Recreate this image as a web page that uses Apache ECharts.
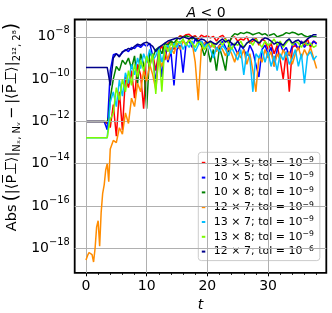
<!DOCTYPE html>
<html><head><meta charset="utf-8">
<script src="https://cdn.jsdelivr.net/npm/echarts@6/dist/echarts.min.js"></script>
<style>html,body{margin:0;padding:0;background:#fff}#c{width:332px;height:313px}</style>
</head><body><div id="c"></div>
<script>
// time axis
const t = [0,0.25,0.5,0.75,1,1.25,1.5,1.75,2,2.25,2.5,2.75,3,3.25,3.5,3.75,
4,4.5,5,5.5,6,6.5,7,7.5,8,8.5,9,9.5,10,10.5,11,11.5,12,12.5,13,13.5,14,14.5,15,15.5,
16,16.5,17,17.5,18,18.5,19,19.5,20,20.5,21,21.5,22,22.5,23,23.5,24,24.5,25,25.5,
26,26.5,27,27.5,28,28.5,29,29.5,30,30.5,31,31.5,32,32.5,33,33.5,34,34.5,35,35.5,
36,36.5,37,37.5,38];
// log10 of the plotted quantity, per series
const log10_13x5 = [-12,-12,-12,-12,-12,-12,-12,-12,-12,-12,-12,-12,-12,-12,-12.1,-11.8,
-12.3,-11.2,-12.7,-10.6,-12.4,-9.9,-10.4,-9.6,-10.9,-9.3,
-9.8,-11.4,-9.0,-9.4,-8.8,-9.6,-8.7,-8.4,-9.1,-8.3,
-8.2,-8.6,-8.1,-7.95,-8.0,-7.9,-7.88,-8.0,-7.95,-8.1,
-7.92,-8.0,-7.95,-8.05,-7.98,-8.2,-8.0,-7.93,-8.1,-8.3,
-8.05,-8.0,-8.2,-8.1,-8.15,-8.0,-8.3,-8.2,-8.05,-8.4,
-8.1,-8.2,-8.6,-8.3,-8.8,-8.4,-9.1,-10.0,-8.7,-10.6,
-8.5,-8.4,-8.6,-8.2,-8.4,-8.1,-8.5,-8.2,-8.3];
const log10_10x5 = [-12,-12,-12,-12,-12,-12,-12,-12,-12,-12,-12,-12,-12,-12.0,-12.4,-11.0,
-9.6,-8.85,-8.8,-8.9,-8.75,-8.6,-8.7,-8.5,-8.55,-8.4,
-8.5,-8.35,-8.45,-8.3,-8.9,-10.2,-8.6,-9.9,-8.5,-9.2,
-8.7,-10.3,-8.6,-8.4,-9.7,-8.3,-8.2,-8.5,-8.1,-8.3,
-8.2,-8.4,-8.25,-8.5,-8.3,-8.6,-8.4,-8.2,-8.5,-8.7,
-8.3,-8.5,-8.8,-8.4,-8.6,-8.9,-8.4,-8.7,-9.3,-9.9,
-8.6,-8.4,-8.8,-8.5,-9.4,-8.6,-8.3,-8.7,-8.5,-8.9,
-8.4,-8.3,-8.6,-8.2,-8.5,-8.3,-8.4,-8.2,-8.35];
const log10_10x8 = [-12,-12,-12,-12,-12,-12,-12,-12,-12,-12,-12,-12,-12,-12,-12,-11.8,
-10.9,-10.0,-9.4,-9.6,-9.1,-9.3,-9.0,-9.5,-8.9,-10.2,
-8.8,-9.3,-11.4,-8.7,-9.0,-8.6,-8.5,-8.8,-8.3,-8.4,
-8.2,-8.3,-8.1,-8.0,-8.05,-7.95,-8.0,-8.1,-8.0,-8.2,
-8.4,-8.9,-8.5,-9.2,-8.6,-9.6,-8.5,-9.0,-9.6,-8.4,
-8.0,-7.85,-7.9,-7.8,-7.85,-7.78,-7.82,-7.9,-7.85,-7.8,
-7.9,-7.85,-7.95,-7.9,-7.85,-8.0,-7.95,-7.9,-7.8,-7.85,
-7.78,-7.82,-7.9,-7.85,-7.95,-8.0,-7.95,-8.0,-8.0];
const log10_12x7 = [-18.56,-18.35,-18.2,-18.15,-18.3,-18.65,-18.0,-17.0,-16.7,-17.9,-16.3,-15.4,-15.0,-14.3,-14.0,-14.85,
-13.3,-12.9,-13.0,-12.3,-12.6,-11.6,-12.1,-10.9,-11.3,-10.2,
-10.6,-9.6,-10.1,-9.3,-9.8,-10.5,-9.0,-9.4,-8.7,-9.1,
-8.5,-8.8,-8.3,-8.6,-8.2,-8.4,-8.1,-8.3,-9.2,-11.0,
-8.6,-8.3,-8.2,-8.5,-8.3,-8.7,-8.4,-8.6,-8.9,-8.5,
-8.8,-9.2,-8.7,-9.0,-8.6,-9.3,-8.8,-9.6,-10.6,-8.9,
-9.2,-8.6,-9.0,-8.7,-9.4,-8.8,-9.1,-8.6,-9.0,-8.7,
-9.3,-8.8,-8.5,-9.0,-8.6,-8.9,-8.5,-9.0,-9.5];
const log10_13x7 = [-12.77,-12.77,-12.77,-12.77,-12.77,-12.77,-12.77,-12.77,-12.77,-12.77,-12.77,-12.77,-12.77,-12.77,-12.77,-12.0,
-11.1,-10.6,-11.3,-10.05,-10.8,-9.7,-10.2,-9.3,-9.8,-9.0,
-9.5,-8.8,-9.2,-8.6,-9.1,-8.9,-8.5,-9.2,-8.6,-8.4,
-8.8,-8.3,-8.5,-8.2,-8.6,-8.3,-8.5,-8.2,-8.7,-8.4,
-8.2,-8.5,-8.3,-8.6,-9.0,-8.5,-8.7,-8.4,-8.6,-8.9,
-8.5,-8.8,-9.1,-8.6,-9.8,-8.7,-9.0,-10.6,-8.8,-9.0,
-8.6,-9.2,-8.7,-9.4,-8.9,-9.6,-8.8,-9.1,-8.7,-9.3,
-9.0,-8.6,-9.4,-8.8,-10.2,-8.9,-8.7,-9.1,-8.9];
const log10_13x8 = [-12.77,-12.77,-12.77,-12.77,-12.77,-12.77,-12.77,-12.77,-12.77,-12.77,-12.77,-12.77,-12.77,-12.77,-12.77,-12.3,
-11.9,-11.6,-10.4,-11.0,-10.0,-10.6,-9.6,-10.3,-9.3,-9.9,
-9.1,-9.6,-8.9,-9.4,-8.8,-10.7,-8.6,-10.6,-8.4,-8.7,
-8.3,-8.5,-8.2,-8.3,-8.1,-8.4,-8.15,-8.3,-8.5,-8.2,
-8.3,-8.6,-8.4,-8.2,-8.5,-8.3,-8.2,-8.4,-8.1,-8.3,
-8.6,-8.3,-8.4,-8.2,-8.5,-8.3,-8.2,-8.4,-8.1,-8.3,
-8.5,-8.2,-8.4,-8.3,-8.1,-8.4,-8.2,-8.5,-8.3,-8.1,
-8.4,-8.2,-8.3,-8.5,-8.2,-8.4,-8.3,-8.5,-8.4];
const log10_12x7_tol6 = [-9.45,-9.45,-9.45,-9.45,-9.45,-9.45,-9.45,-9.45,-9.45,-9.45,-9.45,-9.45,-9.45,-9.45,-9.45,-9.45,
-10.3,-9.0,-8.8,-8.95,-8.7,-8.65,-8.55,-8.6,-8.45,-8.35,
-8.4,-8.3,-8.25,-8.35,-8.45,-8.7,-8.5,-8.4,-8.3,-8.2,
-8.15,-8.1,-8.05,-8.1,-8.0,-8.05,-8.1,-8.0,-8.1,-8.2,
-8.1,-8.15,-8.3,-8.2,-8.3,-8.35,-8.2,-8.1,-8.25,-8.15,
-8.3,-8.4,-8.2,-8.45,-8.5,-8.3,-8.2,-8.1,-8.2,-8.3,
-8.15,-8.05,-8.1,-8.2,-8.35,-8.25,-8.3,-8.4,-8.2,-8.1,
-8.3,-8.2,-8.15,-8.3,-8.25,-8.1,-8.0,-7.9,-7.9];

const seriesNames = ['13 × 5; tol = 10^−9','10 × 5; tol = 10^−9','10 × 8; tol = 10^−9','12 × 7; tol = 10^−9','13 × 7; tol = 10^−9','13 × 8; tol = 10^−9','12 × 7; tol = 10^−6'];
const seriesValues = [log10_13x5, log10_10x5, log10_10x8, log10_12x7, log10_13x7, log10_13x8, log10_12x7_tol6];
const seriesColors = ['#ff0000','#0000ff','#008000','#ff8c00','#00bfff','#7cfc00','#00008b'];

const xMajorTicks = [0,10,20,30];
const xMinorTicks = [0,2,4,6,8,10,12,14,16,18,20,22,24,26,28,30,32,34,36,38];
const yTicks = [-18,-16,-14,-12,-10,-8];
const xRange = [-1.86, 39.6];
const yRange = [-19.16, -7.18];

const FONT = 'DejaVu Sans';
const chart = echarts.init(document.getElementById('c'), null, {renderer:'canvas'});

const grid = {left:74.7, right:5.7, top:19.5, bottom:40.2, show:true, borderColor:'#000', borderWidth:1.8,
  backgroundColor:'transparent', containLabel:false, outerBoundsMode:'none'};

const gridLines = [];
xMajorTicks.forEach(v => gridLines.push({xAxis:v}));
yTicks.forEach(v => gridLines.push({yAxis:v}));

const series = [{
  type:'line', data:[], z:1, silent:true, animation:false,
  markLine:{silent:true, animation:false, symbol:['none','none'], label:{show:false},
    lineStyle:{color:'#b0b0b0', width:1, type:'solid'}, emphasis:{disabled:true}, data:gridLines}
}];
seriesValues.forEach((vals, k) => {
  series.push({
    name: seriesNames[k], type:'line', z: 2+k, animation:false,
    showSymbol:false, symbol:'none',
    lineStyle:{color:seriesColors[k], width:1.5},
    itemStyle:{color:seriesColors[k]},
    emphasis:{disabled:true},
    data: t.map((x,i) => [x, vals[i]])
  });
});

const option = {
  backgroundColor:'#fff',
  animation:false,
  title:{
    text:'{i|A} < 0', left:201, top:1, textAlign:'center',
    textStyle:{fontFamily:FONT, fontSize:14, fontWeight:'normal', color:'#000',
      rich:{i:{fontFamily:FONT, fontSize:14, fontStyle:'italic', color:'#000'}}}
  },
  grid: grid,
  legend:{
    orient:'vertical', left:198.3, top:152.3,
    padding:[4,6,3.5,3.5], itemGap:2.8, itemWidth:3.5, itemHeight:2, icon:'rect',
    backgroundColor:'rgba(255,255,255,0.8)', borderColor:'#cccccc', borderWidth:1, borderRadius:3,
    data: seriesNames,
    formatter: name => { const p = name.split('^'); return '{a|' + p[0] + '}{s|' + p[1] + '}'; },
    textStyle:{fontFamily:FONT, fontSize:11, color:'#000',
      rich:{a:{fontFamily:FONT, fontSize:11, lineHeight:13, verticalAlign:'middle', color:'#000', padding:[0,0,0,3.5]},
            s:{fontFamily:FONT, fontSize:7.7, lineHeight:8, verticalAlign:'top', color:'#000'}}}
  },
  xAxis:[{
    type:'value', min:xRange[0], max:xRange[1], gridIndex:0, position:'bottom',
    name:'t', nameLocation:'middle', nameGap:25,
    nameTextStyle:{fontFamily:FONT, fontSize:14, fontStyle:'italic', color:'#000'},
    axisLine:{show:false},
    axisTick:{show:true, inside:false, length:3.5, lineStyle:{color:'#000', width:1}, customValues:xMajorTicks},
    axisLabel:{show:true, customValues:xMajorTicks, margin:7, fontFamily:FONT, fontSize:14, color:'#000'},
    splitLine:{show:false}, minorTick:{show:false}
  },{
    type:'value', min:xRange[0], max:xRange[1], gridIndex:0, position:'bottom', offset:0,
    axisLine:{show:false},
    axisTick:{show:true, inside:false, length:2.2, lineStyle:{color:'#000', width:0.8}, customValues:xMinorTicks},
    axisLabel:{show:false}, splitLine:{show:false}
  }],
  yAxis:[{
    type:'value', min:yRange[0], max:yRange[1], gridIndex:0,
    axisLine:{show:false},
    axisTick:{show:true, inside:false, length:3.5, lineStyle:{color:'#000', width:1}, customValues:yTicks},
    axisLabel:{show:true, customValues:yTicks, margin:5,
      formatter: v => '{b|10}{s|−' + Math.abs(Math.round(v)) + '}',
      rich:{b:{fontFamily:FONT, fontSize:14, lineHeight:22, verticalAlign:'middle', color:'#000'},
            s:{fontFamily:FONT, fontSize:9.8, lineHeight:10, verticalAlign:'top', color:'#000'}}},
    splitLine:{show:false}
  }],
  graphic:[{
    type:'text', x:12, y:127, rotation:Math.PI/2, silent:true,
    style:{
      text:'{n|Abs\u2009}{p|(}{n||⟨P\u0305\u22A5\u0305⟩|}{s|Nₓ, Nᵥ}{n|\u2009−\u2009|⟨P\u0305\u22A5\u0305⟩|}{s|2¹², 2⁸}{p|)}',
      align:'center', verticalAlign:'middle', fill:'#000', fontFamily:FONT, fontSize:14.5,
      rich:{
        n:{fontFamily:FONT, fontSize:14.5, lineHeight:20, verticalAlign:'middle', fill:'#000'},
        p:{fontFamily:FONT, fontSize:19, lineHeight:20, verticalAlign:'middle', fill:'#000'},
        s:{fontFamily:FONT, fontSize:10, lineHeight:10, verticalAlign:'bottom', fill:'#000'}
      }
    }
  }],
  series: series
};
chart.setOption(option);
</script>
</body></html>
